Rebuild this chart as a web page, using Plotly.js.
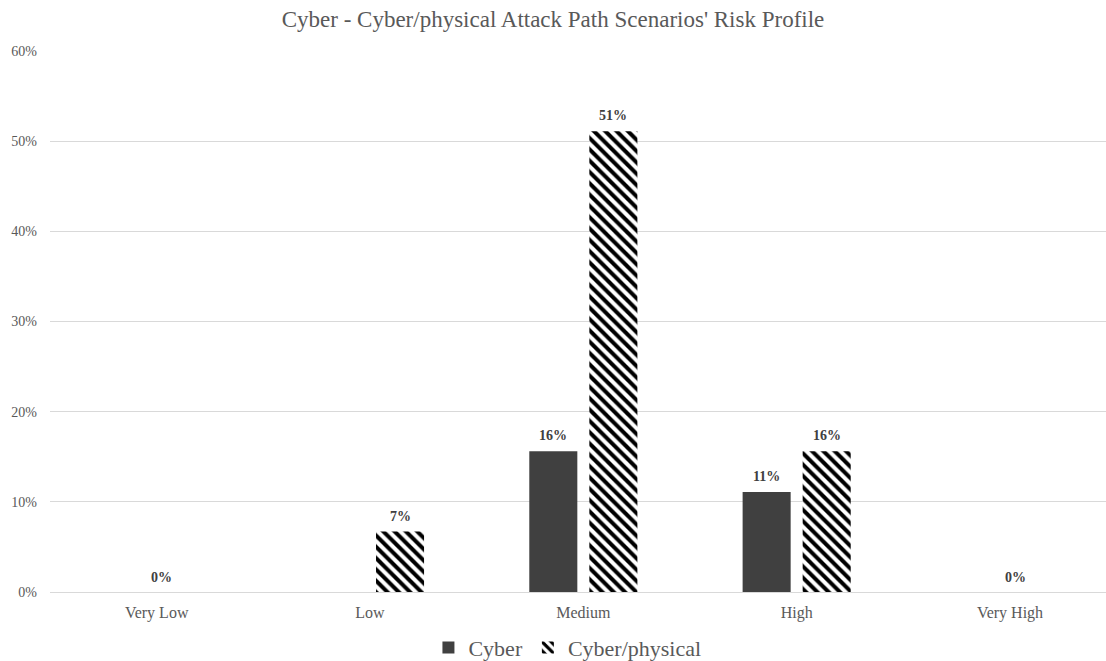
<!DOCTYPE html>
<html>
<head>
<meta charset="utf-8">
<script src="https://cdn.plot.ly/plotly-3.0.1.min.js"></script>
<style>html,body{margin:0;padding:0;background:#fff;}#chart{width:1106px;height:661px;}</style>
</head>
<body>
<div id="chart"></div>
<script>
const categories = ['Very Low', 'Low', 'Medium', 'High', 'Very High'];
const cyberValues = [null, null, 0.156, 0.111, null];
const cyberPhysicalValues = [null, 0.067, 0.511, 0.156, null];
const zeroLabelCategories = ['Very Low', 'Very High'];
const zeroLabelValues = [0, 0];

const fmt = v => (v == null ? '' : Math.round(v * 100) + '%');
const serif = '"Liberation Serif", "Times New Roman", serif';
const labelFont = {family: serif, size: 14, color: '#404040'};

const traces = [
  {
    type: 'bar', name: 'Cyber', x: categories, y: cyberValues,
    marker: {color: '#404040'}
  },
  {
    type: 'bar', name: 'Cyber/physical', x: categories, y: cyberPhysicalValues,
    marker: {color: '#ffffff', pattern: {shape: '\\', fgcolor: '#000000', bgcolor: '#ffffff', size: 8, solidity: 0.5}}
  }
];

const annotations = [];
function addLabels(values, xshift) {
  values.forEach((v, i) => {
    if (v == null) return;
    annotations.push({x: categories[i], y: v, xref: 'x', yref: 'y', text: '<b>' + fmt(v) + '</b>',
      showarrow: false, yanchor: 'bottom', yshift: 6, xshift: xshift, font: labelFont});
  });
}
addLabels(cyberValues, -30);
addLabels(cyberPhysicalValues, 30);
zeroLabelCategories.forEach((c, i) => {
  annotations.push({x: c, y: zeroLabelValues[i], xref: 'x', yref: 'y', text: '<b>' + fmt(zeroLabelValues[i]) + '</b>',
    showarrow: false, yanchor: 'bottom', yshift: 5, xshift: 5, font: labelFont});
});

const layout = {
  width: 1106, height: 661,
  margin: {l: 50, r: 0, t: 51, b: 69},
  paper_bgcolor: '#ffffff', plot_bgcolor: '#ffffff',
  title: {text: "Cyber - Cyber/physical Attack Path Scenarios' Risk Profile", x: 0.5, xanchor: 'center',
          yref: 'container', y: 0.972, yanchor: 'middle',
          font: {family: serif, size: 23, color: '#595959'}},
  barmode: 'group', bargap: 0.437, bargroupgap: 0.2,
  xaxis: {type: 'category', range: [-0.5, 4.45], showgrid: false, showline: false, zeroline: false, ticks: '',
          ticklabelstandoff: 9, automargin: false,
          tickfont: {family: serif, size: 16, color: '#595959'}, fixedrange: true},
  yaxis: {range: [0, 0.6], dtick: 0.1, tickformat: '.0%', showgrid: true, gridcolor: '#d9d9d9', gridwidth: 1,
          zeroline: true, zerolinecolor: '#d9d9d9', zerolinewidth: 1, showline: false, ticks: '', ticklabelstandoff: 12,
          automargin: false,
          tickfont: {family: serif, size: 14, color: '#595959'}},
  showlegend: true,
  legend: {orientation: 'h', x: 0.49, xanchor: 'center', yref: 'container', y: 0.02, yanchor: 'middle',
           font: {family: serif, size: 22, color: '#595959'}, itemwidth: 30, tracegroupgap: 0},
  annotations: annotations
};

Plotly.newPlot('chart', traces, layout, {displayModeBar: false, staticPlot: true});
</script>
</body>
</html>
